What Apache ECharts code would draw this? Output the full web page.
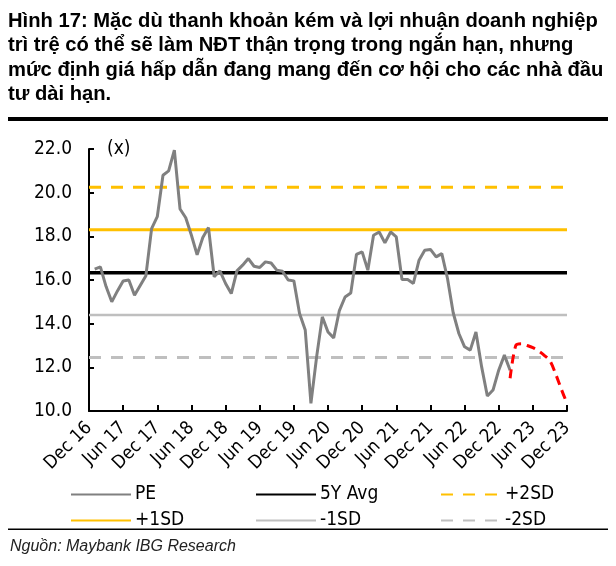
<!DOCTYPE html>
<html>
<head>
<meta charset="utf-8">
<title>PE</title>
<script src="https://cdn.jsdelivr.net/npm/echarts@6/dist/echarts.min.js"></script>
<style>
  html, body { margin: 0; padding: 0; background: #fff; }
  #chart { width: 616px; height: 566px; }
</style>
</head>
<body>
<div id="chart"></div>
<script>
// tháng từ Dec 16 tới Dec 23
var monthNames = ['Jan', 'Feb', 'Mar', 'Apr', 'May', 'Jun', 'Jul', 'Aug', 'Sep', 'Oct', 'Nov', 'Dec'];
var categories = ['Dec 16'];
for (var y = 17; y <= 23; y++) {
    for (var m = 0; m < 12; m++) {
        categories.push(monthNames[m] + ' ' + y);
    }
}

// PE theo tháng (bắt đầu Jan 17)
var pe = [null, 16.5, 16.6, 15.7, 15.0, 15.5, 15.95, 16.0, 15.3, 15.75, 16.2,
    18.35, 18.9, 20.8, 21.0, 21.95, 19.25, 18.85, 18.05, 17.15, 17.95,
    18.4, 16.15, 16.42, 15.84, 15.38, 16.42, 16.68, 16.98, 16.63, 16.57,
    16.83, 16.78, 16.45, 16.4, 16.0, 15.96, 14.47, 13.71, 10.35, 12.48,
    14.31, 13.62, 13.35, 14.6, 15.22, 15.4, 17.17, 17.29, 16.45, 18.05,
    18.2, 17.7, 18.2, 17.97, 16.02, 16.02, 15.84, 16.91, 17.36, 17.4,
    17.06, 17.21, 16.07, 14.5, 13.55, 12.94, 12.79, 13.62, 12.02, 10.69,
    10.96, 11.87, 12.56, 11.87];

// đường dự phóng (nét đứt đỏ)
var forecastStart = 74;
var forecast = [11.5, 13.0, 13.08, 13.0, 12.9, 12.75, 12.55, 12.3, 11.7, 11.0, 10.35];

var avg5y = 16.33;
var plus1sd = 18.3;
var plus2sd = 20.25;
var minus1sd = 14.4;
var minus2sd = 12.45;

var yTicks = [10, 12, 14, 16, 18, 20, 22];

function flat(v) {
    return categories.map(function () { return v; });
}

var forecastData = categories.map(function (c, i) {
    var k = i - forecastStart;
    return k >= 0 && k < forecast.length ? forecast[k] : null;
});

var font = 'DejaVu Sans Condensed';

var chart = echarts.init(document.getElementById('chart'));
chart.setOption({
    animation: false,
    title: {
        text: 'Hình 17: Mặc dù thanh khoản kém và lợi nhuận doanh nghiệp\n' +
            'trì trệ có thể sẽ làm NĐT thận trọng trong ngắn hạn, nhưng\n' +
            'mức định giá hấp dẫn đang mang đến cơ hội cho các nhà đầu\n' +
            'tư dài hạn.',
        left: 8,
        top: 9,
        padding: 0,
        textStyle: {
            fontFamily: 'Liberation Sans',
            fontWeight: 'bold',
            fontSize: 20.2,
            lineHeight: 24.5,
            color: '#000'
        }
    },
    graphic: [
        { type: 'rect', shape: { x: 8, y: 117, width: 600, height: 4 }, style: { fill: '#000' } },
        { type: 'rect', shape: { x: 8, y: 528.5, width: 600, height: 1.5 }, style: { fill: '#000' } },
        {
            type: 'text', left: 10, top: 539,
            style: {
                text: 'Nguồn: Maybank IBG Research',
                font: 'italic 16px "Liberation Sans"',
                fill: '#222'
            }
        }
    ],
    grid: { left: 89, right: 49, top: 149, bottom: 155 },
    legend: [
        { data: ['PE', '+1SD'], left: 70 },
        { data: ['5Y Avg', '-1SD'], left: 255 },
        { data: ['+2SD', '-2SD'], left: 440 }
    ].map(function (l) {
        l.top = 485;
        l.orient = 'vertical';
        l.itemWidth = 60;
        l.itemHeight = 14;
        l.itemGap = 7;
        l.padding = 0;
        l.selectedMode = false;
        l.itemStyle = { opacity: 0 };
        l.textStyle = { fontFamily: font, fontSize: 19, color: '#000', padding: [0, 0, 0, -1] };
        return l;
    }),
    xAxis: {
        type: 'category',
        data: categories,
        boundaryGap: false,
        axisLine: { lineStyle: { color: '#000', width: 2 } },
        axisTick: { inside: true, length: 6, interval: 5, lineStyle: { color: '#000', width: 2 } },
        axisLabel: {
            interval: 5,
            rotate: 45,
            margin: 14,
            fontFamily: font,
            fontSize: 18.5,
            color: '#000'
        },
        splitLine: { show: false }
    },
    yAxis: {
        type: 'value',
        min: yTicks[0],
        max: yTicks[yTicks.length - 1],
        interval: 2,
        name: '(x)',
        nameLocation: 'end',
        nameGap: 0,
        nameTextStyle: {
            fontFamily: font, fontSize: 19, color: '#000',
            align: 'left', verticalAlign: 'middle', padding: [0, 0, 0, 18]
        },
        axisLine: { show: true, lineStyle: { color: '#000', width: 2 } },
        axisTick: { show: true, inside: true, length: 5, lineStyle: { color: '#000', width: 2 } },
        axisLabel: {
            margin: 17,
            fontFamily: font,
            fontSize: 19,
            color: '#000',
            formatter: function (v) { return v.toFixed(1); }
        },
        splitLine: { show: false }
    },
    series: [
        { name: '+2SD', type: 'line', data: flat(plus2sd), symbol: 'none', lineStyle: { color: '#FFC000', width: 3, type: [12, 10] }, itemStyle: { color: '#FFC000' } },
        { name: '+1SD', type: 'line', data: flat(plus1sd), symbol: 'none', lineStyle: { color: '#FFC000', width: 3 }, itemStyle: { color: '#FFC000' } },
        { name: '-1SD', type: 'line', data: flat(minus1sd), symbol: 'none', lineStyle: { color: '#BFBFBF', width: 2.5 }, itemStyle: { color: '#BFBFBF' } },
        { name: '-2SD', type: 'line', data: flat(minus2sd), symbol: 'none', lineStyle: { color: '#BFBFBF', width: 3, type: [12, 10] }, itemStyle: { color: '#BFBFBF' } },
        { name: '5Y Avg', type: 'line', data: flat(avg5y), symbol: 'none', lineStyle: { color: '#000', width: 3.5 }, itemStyle: { color: '#000' } },
        { name: 'PE', type: 'line', data: pe, symbol: 'none', lineStyle: { color: '#808080', width: 3 }, itemStyle: { color: '#808080' } },
        { name: 'Dự phóng', type: 'line', data: forecastData, symbol: 'none', smooth: 0.3, lineStyle: { color: '#FF0000', width: 3, type: [9, 6] }, itemStyle: { color: '#FF0000' } }
    ]
});
</script>
</body>
</html>
